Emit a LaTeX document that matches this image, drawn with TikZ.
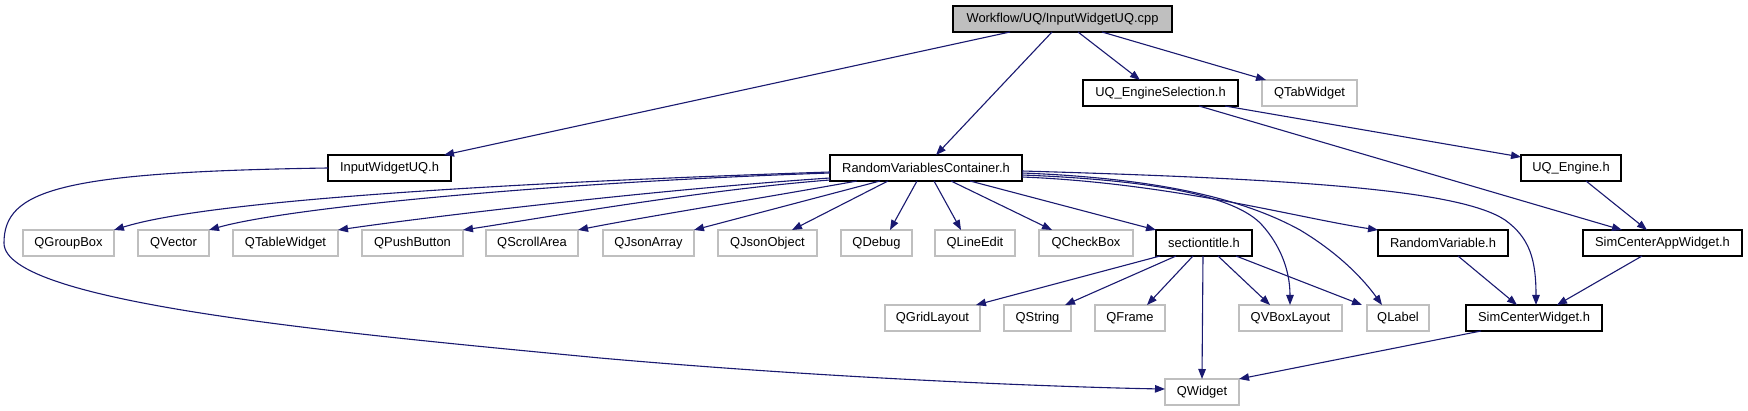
\documentclass[tikz,border=0pt]{standalone}
\usepackage{fontspec}
\setmainfont{Liberation Sans}
\usetikzlibrary{arrows.meta}
\definecolor{edgec}{HTML}{191970}
\definecolor{gbox}{HTML}{BFBFBF}
\begin{document}
\begin{tikzpicture}[x=1pt,y=-1pt,
  nd/.style={draw=black, line width=1.1pt, inner sep=0pt, outer sep=0pt, anchor=north west, minimum height=26pt, font=\fontsize{12.9}{14}\selectfont},
  ext/.style={nd, draw=gbox},
  e/.style={draw=edgec, line width=1.1pt, -{Triangle[length=10pt,width=7.5pt]}}]
\useasboundingbox[fill=white] (0,0) rectangle (1748,411);
% nodes
\node[nd, fill=gbox, minimum width=219pt] (cpp) at (953,6) {Workflow/UQ/InputWidgetUQ.cpp};
\node[nd, minimum width=155pt] (ues) at (1083,80) {UQ\_EngineSelection.h};
\node[ext, minimum width=95pt] (tab) at (1262,80) {QTabWidget};
\node[nd, minimum width=123pt] (iwh) at (328,155) {InputWidgetUQ.h};
\node[nd, minimum width=192pt] (rvc) at (830,155) {RandomVariablesContainer.h};
\node[nd, minimum width=100pt] (uqe) at (1521,155) {UQ\_Engine.h};
\node[ext, minimum width=91pt] (qgb) at (23,230) {QGroupBox};
\node[ext, minimum width=71pt] (qvec) at (138,230) {QVector};
\node[ext, minimum width=105pt] (qtw) at (233,230) {QTableWidget};
\node[ext, minimum width=101pt] (qpb) at (362,230) {QPushButton};
\node[ext, minimum width=92pt] (qsa) at (486,230) {QScrollArea};
\node[ext, minimum width=91pt] (qja) at (603,230) {QJsonArray};
\node[ext, minimum width=99pt] (qjo) at (718,230) {QJsonObject};
\node[ext, minimum width=71pt] (qdbg) at (841,230) {QDebug};
\node[ext, minimum width=80pt] (qle) at (935,230) {QLineEdit};
\node[ext, minimum width=94pt] (qcb) at (1039,230) {QCheckBox};
\node[nd, minimum width=96pt] (sec) at (1156,230) {sectiontitle.h};
\node[nd, minimum width=130pt] (rv) at (1378,230) {RandomVariable.h};
\node[nd, minimum width=159pt] (scaw) at (1583,230) {SimCenterAppWidget.h};
\node[ext, minimum width=95pt] (qgl) at (885,305) {QGridLayout};
\node[ext, minimum width=67pt] (qstr) at (1004,305) {QString};
\node[ext, minimum width=70pt] (qfr) at (1095,305) {QFrame};
\node[ext, minimum width=103pt] (qvbl) at (1239,305) {QVBoxLayout};
\node[ext, minimum width=62pt] (qlab) at (1367,305) {QLabel};
\node[nd, minimum width=136pt] (scw) at (1466,305) {SimCenterWidget.h};
\node[ext, minimum width=74pt] (qw) at (1165,379) {QWidget};
% edges from cpp
\draw[e] ([xshift=57pt]cpp.south west) -- ([xshift=-7pt]iwh.north east);
\draw[e] ([xshift=99pt]cpp.south west) -- ([xshift=106pt]rvc.north west);
\draw[e] ([xshift=125pt]cpp.south west) -- ([xshift=57pt]ues.north west);
\draw[e] ([xshift=149pt]cpp.south west) -- ([xshift=4pt]tab.north west);
% ues, uqe, scaw, rv, scw
\draw[e] ([xshift=142pt]ues.south west) -- ([yshift=-2pt]uqe.north west);
\draw[e] ([xshift=116pt]ues.south west) -- ([xshift=39pt]scaw.north west);
\draw[e] ([xshift=65pt]uqe.south west) -- ([xshift=64pt]scaw.north west);
\draw[e] ([xshift=59pt]scaw.south west) -- ([xshift=91pt]scw.north west);
\draw[e] ([xshift=80pt]rv.south west) -- ([xshift=51pt]scw.north west);
\draw[e] ([xshift=15pt]scw.south west) -- (qw.north east);
% InputWidgetUQ -> QWidget
\draw[e] (iwh.west) .. controls (60,172) and (4,190) .. (4,243) .. controls (4,303) and (340,333) .. (600,358) .. controls (860,381) and (1100,388) .. ([yshift=3pt]qw.west);
% rvc left fan
\draw[e] ([yshift=-4pt]rvc.west) .. controls +(-300,10) and +(99,-31) .. (qgb.north east);
\draw[e] ([yshift=-5pt]rvc.west) .. controls +(-270,9) and +(81,-23) .. (qvec.north east);
\draw[e] ([yshift=-10pt]rvc.west) .. controls +(-180,12) and +(82,-12) .. (qtw.north east);
\draw[e] ([yshift=-12pt]rvc.west) .. controls +(-130,10) and +(67,-10) .. (qpb.north east);
\draw[e] ([xshift=27pt]rvc.south west) .. controls +(-100,18) and +(60,-12) .. (qsa.north east);
\draw[e] ([xshift=50pt]rvc.south west) -- (qja.north east);
\draw[e] ([xshift=58pt]rvc.south west) -- ([xshift=-25pt]qjo.north east);
\draw[e] ([xshift=87pt]rvc.south west) -- ([xshift=49pt]qdbg.north west);
\draw[e] ([xshift=104pt]rvc.south west) -- ([xshift=26pt]qle.north west);
\draw[e] ([xshift=121pt]rvc.south west) -- ([xshift=13pt]qcb.north west);
\draw[e] ([xshift=140pt]rvc.south west) -- (sec.north west);
% rvc right side
\draw[e] ([yshift=-3pt]rvc.east) .. controls +(278,8) and +(-45,-30) .. (1505,220) .. controls +(25,18) and +(0,-45) .. ([xshift=70pt]scw.north west);
\draw[e] ([yshift=-5pt]rvc.east) .. controls +(130,5) and +(-60,-33) .. (1300,230) .. controls +(40,24) and +(-18,-25) .. ([xshift=15pt]qlab.north west);
\draw[e] ([yshift=-7pt]rvc.east) .. controls +(128,5) and +(-27,-30) .. (1262,225) .. controls +(18,20) and +(0,-35) .. ([xshift=51pt]qvbl.north west);
\draw[e] ([yshift=-9pt]rvc.east) .. controls +(150,6) and +(-80,-12) .. (rv.north west);
% sectiontitle
\draw[e] ([xshift=4pt]sec.south west) -- ([xshift=-4pt]qgl.north east);
\draw[e] ([xshift=20pt]sec.south west) -- ([xshift=-6pt]qstr.north east);
\draw[e] ([xshift=37pt]sec.south west) -- ([xshift=52pt]qfr.north west);
\draw[e] ([xshift=47pt]sec.south west) -- ([xshift=37pt]qw.north west);
\draw[e] ([xshift=62pt]sec.south west) -- ([xshift=31pt]qvbl.north west);
\draw[e] ([xshift=80pt]sec.south west) -- ([xshift=-5pt]qlab.north west);
\end{tikzpicture}
\end{document}
